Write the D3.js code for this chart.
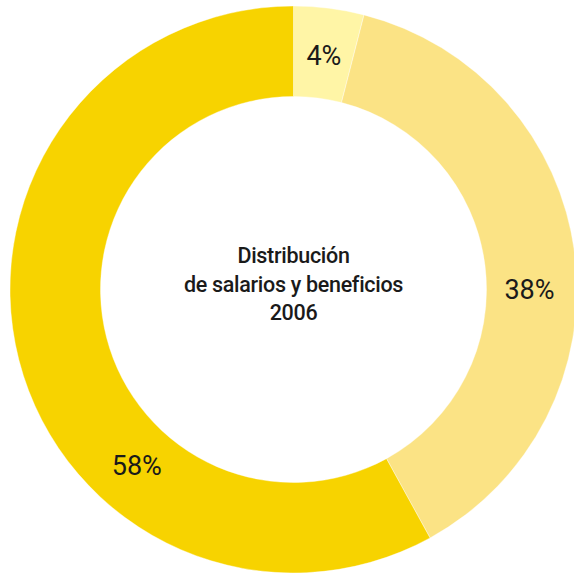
<!DOCTYPE html>
<html><head><meta charset="utf-8">
<script src="https://cdn.jsdelivr.net/npm/d3@7"></script>
<style>
html,body{margin:0;padding:0;background:#fff;overflow:hidden;}
svg{display:block;}
</style></head>
<body>
<svg id="chart" width="574" height="575"></svg>
<script>
const categories = ["A", "B", "C"];
const values = [4, 38, 58];
const labels = ["4%", "38%", "58%"];
const colors = ["#FFF5A6", "#FBE385", "#F7D300"];
const titleLines = ["Distribución", "de salarios y beneficios", "2006"];

// layout: label angles (degrees, clockwise from top)
const labelAngles = [7.4, 90, 221.6];

const svg = d3.select("#chart");
const cx = 293.5, cy = 289.5, R = 283.5, r = 193;
const g = svg.append("g").attr("transform", `translate(${cx},${cy})`);

const pie = d3.pie().sort(null).value(d => d)(values);
const arc = d3.arc().innerRadius(r).outerRadius(R);
g.selectAll("path").data(pie).join("path")
  .attr("d", arc)
  .attr("fill", (d, i) => colors[i])
  .attr("stroke", "#fff").attr("stroke-width", 0.4);

const font = "Roboto, 'Noto Sans', sans-serif";
const lr = 236;
g.selectAll("text.lbl").data(pie).join("text")
  .attr("class", "lbl")
  .attr("transform", (d, i) => {
    const a = labelAngles[i] * Math.PI / 180;
    return `translate(${lr * Math.sin(a)},${-lr * Math.cos(a)})`;
  })
  .attr("text-anchor", "middle")
  .attr("dy", "0.35em")
  .attr("font-family", font)
  .attr("font-size", 27)
  .attr("fill", "#1a1a1a")
  .text((d, i) => labels[i]);

g.selectAll("text.title").data(titleLines).join("text")
  .attr("class", "title")
  .attr("text-anchor", "middle")
  .attr("y", (d, i) => -26.5 + i * 28.5)
  .attr("font-family", font)
  .attr("font-size", 21.5)
  .attr("font-weight", 500)
  .attr("letter-spacing", -0.3)
  .attr("fill", "#1a1a1a")
  .text(d => d);
</script>
</body></html>
